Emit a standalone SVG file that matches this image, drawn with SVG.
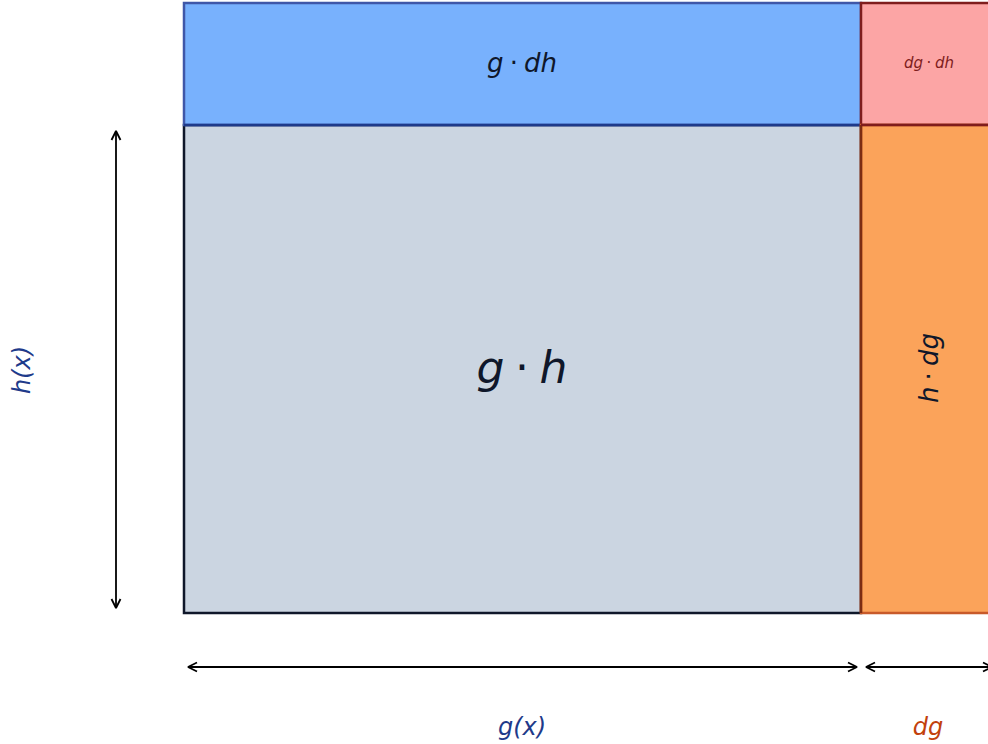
<svg xmlns="http://www.w3.org/2000/svg" width="988" height="744" viewBox="0 0 988 744">
<defs>
<marker id="ah" viewBox="0 0 12 12" refX="10.5" refY="6" markerWidth="12" markerHeight="12" markerUnits="userSpaceOnUse" orient="auto-start-reverse">
<path d="M1.5,1.5 L10.5,6 L1.5,10.5" fill="none" stroke="#000" stroke-width="1.8" stroke-linejoin="miter" stroke-miterlimit="2"/>
</marker>
<style>
text{font-family:"DejaVu Sans",sans-serif;font-style:italic;text-anchor:middle;dominant-baseline:central;word-spacing:-0.08em}
.dot{font-style:normal}
.arr{stroke:#000;stroke-width:1.8;fill:none;marker-start:url(#ah);marker-end:url(#ah)}
</style>
</defs>
<rect width="988" height="744" fill="#fff"/>
<g id="main">
<rect x="184" y="125" width="677" height="488" fill="#cbd5e1" stroke="#0f172a" stroke-width="2.5"/>
<text x="522" y="367" font-size="44" fill="#0f172a">g <tspan class="dot">·</tspan> h</text>
</g>
<g id="top">
<rect x="184" y="3" width="677" height="122" fill="#78b1fd" stroke="#3f57a8" stroke-width="2.5"/>
<line x1="184" y1="125" x2="861" y2="125" stroke="#1e3a8a" stroke-width="2.5"/>
<text x="522" y="63" font-size="26" fill="#0f172a">g <tspan class="dot">·</tspan> dh</text>
</g>
<g id="corner">
<rect x="861" y="3" width="140" height="122" fill="#fca5a5" stroke="#7f1d1d" stroke-width="2.5"/>
<text x="929" y="63" font-size="15" fill="#7f1d1d">dg <tspan class="dot">·</tspan> dh</text>
</g>
<g id="side">
<rect x="861" y="125" width="140" height="488" fill="#fba35a" stroke="#c85a2a" stroke-width="2.5"/>
<line x1="861" y1="125" x2="861" y2="613" stroke="#7c2d12" stroke-width="2.5"/>
<line x1="861" y1="125" x2="990" y2="125" stroke="#7f1d1d" stroke-width="2.5"/>
<text transform="translate(929,368) rotate(-90)" font-size="26" fill="#0f172a">h <tspan class="dot">·</tspan> dg</text>
</g>
<g id="connectors">
<line class="arr" x1="116" y1="131" x2="116" y2="608"/>
<line class="arr" x1="188" y1="667" x2="857" y2="667"/>
<line class="arr" x1="866" y1="667" x2="992" y2="667"/>
</g>
<g id="labels">
<text transform="translate(22,370) rotate(-90)" font-size="24" fill="#1e3a8a">h(x)</text>
<text x="522" y="727" font-size="24" fill="#1e3a8a">g(x)</text>
<text x="928" y="727" font-size="24" fill="#c2410c">dg</text>
</g>
</svg>
